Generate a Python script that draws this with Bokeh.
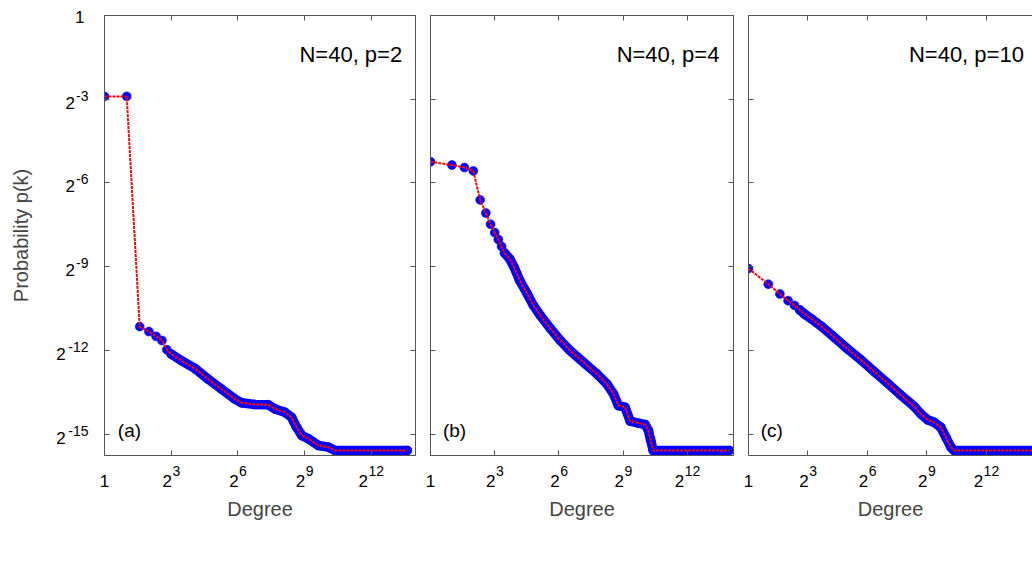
import math
from bokeh.plotting import figure
from bokeh.models import Range1d, FixedTicker, LogAxis, Label
from bokeh.layouts import row
from bokeh.embed import file_html
from bokeh.resources import INLINE

FONT = "Liberation Sans"
FRAME = "#555555"
BLUE = "#0000ff"
RED = "#ff0000"
FS = "\u2007"  # figure space, used to place the base "2" next to its exponent

# ---- tick positions / labels (base and superscript exponent) ----
x_ticks = [1, 8, 64, 512, 4096]
x_tick_base = ["1", "2", "2", "2", "2"]
x_tick_exp = ["", "3", "6", "9", "12"]
y_ticks = [1, 2**-3, 2**-6, 2**-9, 2**-12, 2**-15]
y_tick_base = ["1", "2", "2", "2", "2", "2"]
y_tick_exp = ["", "-3", "-6", "-9", "-12", "-15"]

titles = ["N=40, p=2", "N=40, p=4", "N=40, p=10"]
tags = ["(a)", "(b)", "(c)"]

# ---- data: degree k and log2 of probability p(k) ----
deg_a = [1, 2, 3, 4, 5, 6, 7, 8, 11, 17, 25, 38, 58, 72, 108, 165, 204, 278,
         342, 401, 471, 580, 676, 792, 1082, 1333, 12680]
log2p_a = [-2.9, -2.9, -11.15, -11.33, -11.5, -11.65, -11.98, -12.13, -12.37,
           -12.66, -13.02, -13.38, -13.74, -13.88, -13.94, -13.95, -14.1, -14.22,
           -14.4, -14.76, -15.05, -15.17, -15.29, -15.41, -15.47, -15.59, -15.59]

deg_b = [1, 2, 3, 4, 5, 6, 7, 8, 9, 10, 11, 13, 15, 18, 23, 28, 35, 49, 67, 92,
         142, 218, 302, 375, 440, 545, 644, 843, 1045, 1160, 1252, 1360, 15930]
log2p_b = [-5.24, -5.36, -5.45, -5.57, -6.61, -7.08, -7.48, -7.78, -8.03, -8.28,
           -8.51, -8.72, -9.02, -9.5, -9.98, -10.39, -10.75, -11.23, -11.65,
           -12.01, -12.43, -12.84, -13.2, -13.56, -13.98, -14.04, -14.54, -14.61,
           -14.66, -14.87, -15.23, -15.59, -15.59]

deg_c = [1, 2, 3, 4, 5, 6, 7, 9, 13, 20, 32, 51, 81, 130, 206, 329, 416, 526,
         662, 838, 996, 1193, 1333, 21600]
log2p_c = [-9.07, -9.63, -9.98, -10.22, -10.39, -10.55, -10.69, -10.87, -11.15,
           -11.53, -11.95, -12.34, -12.76, -13.18, -13.6, -14.01, -14.28, -14.49,
           -14.58, -14.76, -15.11, -15.47, -15.59, -15.59]

series = [(deg_a, log2p_a), (deg_b, log2p_b), (deg_c, log2p_c)]

YLO = -15.77
FRAME_H = 440
BASE_PX = 17
EXP_PX = 14
DIGIT_EM = 0.556


def frame_axis(ax, ticks):
    ax.ticker = FixedTicker(ticks=ticks)
    ax.major_tick_in = 5
    ax.major_tick_out = 0
    ax.minor_tick_line_color = None
    ax.axis_line_color = FRAME
    ax.major_tick_line_color = FRAME
    ax.major_label_text_font = FONT
    ax.major_label_text_font_size = "1px"
    ax.major_label_text_color = None
    ax.major_label_standoff = 0


def label_axis(ticks, texts, px, standoff):
    ax = LogAxis(ticker=FixedTicker(ticks=ticks),
                 major_label_overrides={t: s for t, s in zip(ticks, texts)})
    ax.major_tick_line_color = None
    ax.minor_tick_line_color = None
    ax.axis_line_color = None
    ax.major_tick_in = 0
    ax.major_tick_out = 0
    ax.major_label_text_font = FONT
    ax.major_label_text_font_size = f"{px}px"
    ax.major_label_text_color = "black"
    ax.major_label_standoff = standoff
    return ax


def shift(t, px, ppu):
    return 2.0 ** (math.log2(t) + px / ppu)


def make_panel(i, width, bl, br, xmax, dense_from, title_x, title_align, tag_x,
               y_labels, right_axis):
    deg, lp = series[i]
    prob = [2.0 ** v for v in lp]
    frame_w = width - bl - br
    ppu_x = frame_w / xmax
    ppu_y = FRAME_H / -YLO
    p = figure(width=width, height=570, x_axis_type="log", y_axis_type="log",
               x_range=Range1d(1, 2 ** xmax), y_range=Range1d(2 ** YLO, 1),
               output_backend="svg", toolbar_location=None,
               min_border_left=bl, min_border_right=br, min_border_top=15,
               min_border_bottom=115)
    p.grid.visible = False
    p.background_fill_color = "white"
    p.border_fill_color = "white"
    p.outline_line_color = FRAME if right_axis else None

    frame_axis(p.xaxis[0], x_ticks)
    frame_axis(p.yaxis[0], y_ticks)
    top = LogAxis()
    frame_axis(top, x_ticks)
    p.add_layout(top, "above")
    if right_axis:
        rt = LogAxis()
        frame_axis(rt, y_ticks)
        p.add_layout(rt, "right")

    # x tick labels: exponent row (raised) then base row, centred as one label
    e_ticks, e_txt, b_ticks, b_txt = [], [], [], []
    for t, b, e in zip(x_ticks, x_tick_base, x_tick_exp):
        wb = len(b) * DIGIT_EM * BASE_PX
        we = len(e) * DIGIT_EM * EXP_PX
        b_ticks.append(shift(t, -we / 2, ppu_x))
        b_txt.append(b)
        if e:
            e_ticks.append(shift(t, wb / 2 + 0.5, ppu_x))
            e_txt.append(e)
    p.add_layout(label_axis(e_ticks, e_txt, EXP_PX, 10), "below")
    xb = label_axis(b_ticks, b_txt, BASE_PX, -4)
    xb.axis_label = "Degree"
    xb.axis_label_text_font = FONT
    xb.axis_label_text_font_style = "normal"
    xb.axis_label_text_font_size = "20px"
    xb.axis_label_standoff = 8
    p.add_layout(xb, "below")

    if y_labels:
        e_ticks, e_txt, b_ticks, b_txt = [], [], [], []
        for t, b, e in zip(y_ticks, y_tick_base, y_tick_exp):
            if e:
                e_ticks.append(shift(t, 3.5, ppu_y))
                e_txt.append(e)
                b_ticks.append(shift(t, -4.0, ppu_y))
                b_txt.append(b + FS * len(e.strip("-")))
            else:
                b_ticks.append(shift(t, -1.5, ppu_y))
                b_txt.append(b)
        p.add_layout(label_axis(e_ticks, e_txt, EXP_PX, 16), "left")
        yb = label_axis(b_ticks, b_txt, BASE_PX, -19)
        yb.axis_label = "Probability p(k)"
        yb.axis_label_text_font = FONT
        yb.axis_label_text_font_style = "normal"
        yb.axis_label_text_font_size = "20px"
        yb.axis_label_standoff = 21
        p.add_layout(yb, "left")

    # dense part drawn as band of overlapping markers
    p.line(deg[dense_from:], prob[dense_from:], line_color=BLUE, line_width=9.5,
           line_join="round", line_cap="round")
    p.scatter(deg, prob, size=9, fill_color=BLUE, line_color=BLUE, line_width=0.5)
    p.line(deg, prob, line_color=RED, line_width=2, line_dash="3 1")

    p.add_layout(Label(x=2 ** title_x, y=2 ** -1.40, text=titles[i],
                       text_align=title_align, text_baseline="middle",
                       text_font=FONT, text_font_size="22px", text_color="black"))
    p.add_layout(Label(x=2 ** tag_x, y=2 ** -14.87, text=tags[i],
                       text_align="left", text_baseline="middle",
                       text_font=FONT, text_font_size="19px", text_color="black"))
    return p


pa = make_panel(0, 422, 104, 7, 14.0, 7, 13.4, "right", 0.6, True, True)
pb = make_panel(1, 318, 8, 7, 14.16, 10, 13.5, "right", 0.58, False, True)
pc = make_panel(2, 292, 8, 0, 14.34, 5, 8.1, "left", 0.62, False, False)

layout = row(pa, pb, pc, spacing=0)
open("out.html", "w").write(file_html(layout, INLINE))
